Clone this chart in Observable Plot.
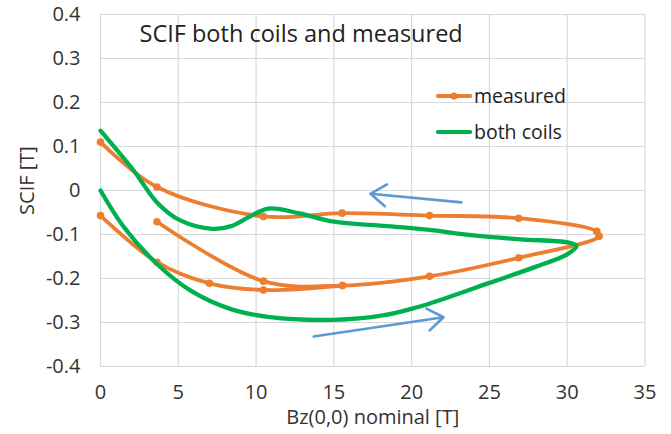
<!DOCTYPE html>
<html>
<head>
<meta charset="utf-8">
<script src="https://cdn.jsdelivr.net/npm/d3@7"></script>
<script src="https://cdn.jsdelivr.net/npm/@observablehq/plot@0.6"></script>
<style>
  html, body { margin: 0; padding: 0; background: #fff; }
  #wrap { position: relative; width: 671px; height: 434px; font-family: "Open Sans", sans-serif; }
  .leg { position: absolute; left: 436px; display: flex; align-items: center; height: 24px; font-size: 19.5px; color: #222; }
  .leg svg { display: block; }
  .leg span { margin-left: 2px; line-height: 24px; }
</style>
</head>
<body>
<div id="wrap"></div>
<script>
// ---- data ----
const xTicks = [0, 5, 10, 15, 20, 25, 30, 35];
const yTicks = [-0.4, -0.3, -0.2, -0.1, 0, 0.1, 0.2, 0.3, 0.4];
const yTickLabels = ["-0.4", "-0.3", "-0.2", "-0.1", "0", "0.1", "0.2", "0.3", "0.4"];

const titleText = ["SCIF both coils and measured"];
const xLabel = ["Bz(0,0) nominal [T]"];
const yLabel = ["SCIF [T]"];
const seriesNames = ["measured", "both coils"];
const seriesColors = ["#ED7D31", "#00B050"];

// measured, first run (ramp up, then down)
const measuredRun1 = [
  [3.63, -0.071], [10.47, -0.206], [15.55, -0.216], [21.15, -0.195], [26.88, -0.153],
  [32.05, -0.104], [31.9, -0.093], [26.88, -0.063], [21.15, -0.057], [15.53, -0.0515],
  [10.47, -0.059], [3.63, 0.008], [0, 0.11]
];
// measured, second run
const measuredRun2 = [
  [0, -0.057], [3.63, -0.163], [7.0, -0.211], [10.47, -0.226], [15.55, -0.216]
];
// both coils (calculated)
const bothCoils = [
  [0, 0.0], [1.5, -0.083], [3.63, -0.167], [5.77, -0.227], [8.33, -0.269], [10.9, -0.288],
  [14.96, -0.294], [18.16, -0.284], [20.3, -0.266], [22, -0.247], [25, -0.21],
  [28, -0.173], [30, -0.145], [30.6, -0.126], [30.0, -0.118], [27, -0.111], [24, -0.102],
  [21, -0.089], [18, -0.08], [15, -0.071], [12.8, -0.052],
  [10.8, -0.041], [9.5, -0.061], [8.4, -0.081], [7.2, -0.087], [5.13, -0.068],
  [3.63, -0.027], [2.14, 0.045], [0, 0.136]
];
// direction arrows
const arrowsData = [
  {x1: 23.2, y1: -0.027, x2: 17.35, y2: -0.0075},
  {x1: 13.7, y1: -0.332, x2: 22.05, y2: -0.288}
];

// ---- build tables ----
const measured = [
  ...measuredRun1.map(([x, y]) => ({x, y, run: 1})),
  ...measuredRun2.map(([x, y]) => ({x, y, run: 2}))
];
const coils = bothCoils.map(([x, y]) => ({x, y}));

const yFmt = d => {
  const i = yTicks.findIndex(t => Math.abs(t - d) < 1e-9);
  return i >= 0 ? yTickLabels[i] : String(d);
};

const chart = Plot.plot({
  width: 671,
  height: 434,
  marginLeft: 100,
  marginRight: 26.5,
  marginTop: 14,
  marginBottom: 68,
  style: {fontFamily: "Open Sans, sans-serif", fontSize: "20px", color: "#333", background: "#fff"},
  x: {domain: [0, 35], ticks: xTicks, label: null},
  y: {domain: [-0.4, 0.4], ticks: yTicks, label: null},
  marks: [
    Plot.gridX(xTicks, {stroke: "#d9d9d9", strokeOpacity: 1, strokeWidth: 1.2}),
    Plot.gridY(yTicks, {stroke: "#d9d9d9", strokeOpacity: 1, strokeWidth: 1.2}),
    Plot.axisX({ticks: xTicks, tickSize: 0, tickPadding: 18, fontSize: 20, label: null}),
    Plot.axisY({ticks: yTicks, tickSize: 0, tickPadding: 20, fontSize: 20, tickFormat: yFmt, label: null}),
    Plot.text(xLabel, {frameAnchor: "bottom", dy: 57, fontSize: 20, fill: "#333"}),
    Plot.text(yLabel, {frameAnchor: "left", textAnchor: "middle", lineAnchor: "middle", dx: -73, dy: -10, rotate: -90, fontSize: 20, fill: "#333"}),
    Plot.text(titleText, {frameAnchor: "top-left", dx: 39, dy: 19.5, textAnchor: "start", lineAnchor: "middle", fontSize: 23.5, fill: "#222"}),
    Plot.line(measured, {x: "x", y: "y", z: "run", stroke: seriesColors[0], strokeWidth: 3.8, curve: "catmull-rom"}),
    Plot.dot(measured, {x: "x", y: "y", r: 3.8, fill: seriesColors[0]}),
    Plot.line(coils, {x: "x", y: "y", stroke: seriesColors[1], strokeWidth: 4.3, curve: "catmull-rom"}),
    Plot.arrow(arrowsData, {x1: "x1", y1: "y1", x2: "x2", y2: "y2", stroke: "#5B9BD5", strokeWidth: 2.6, headLength: 11, headAngle: 70})
  ]
});

const wrap = document.getElementById("wrap");
wrap.appendChild(chart);

// legend overlay
const legTops = [84, 119.7];
seriesNames.forEach((name, i) => {
  const item = document.createElement("div");
  item.className = "leg";
  item.style.top = legTops[i] + "px";
  const dot = i === 0 ? `<circle cx="18" cy="6" r="3.6" fill="${seriesColors[i]}"/>` : "";
  item.innerHTML = `<svg width="36" height="12"><line x1="2" y1="6" x2="34" y2="6" stroke="${seriesColors[i]}" stroke-width="4.2" stroke-linecap="round"/>${dot}</svg><span>${name}</span>`;
  wrap.appendChild(item);
});
</script>
</body>
</html>
